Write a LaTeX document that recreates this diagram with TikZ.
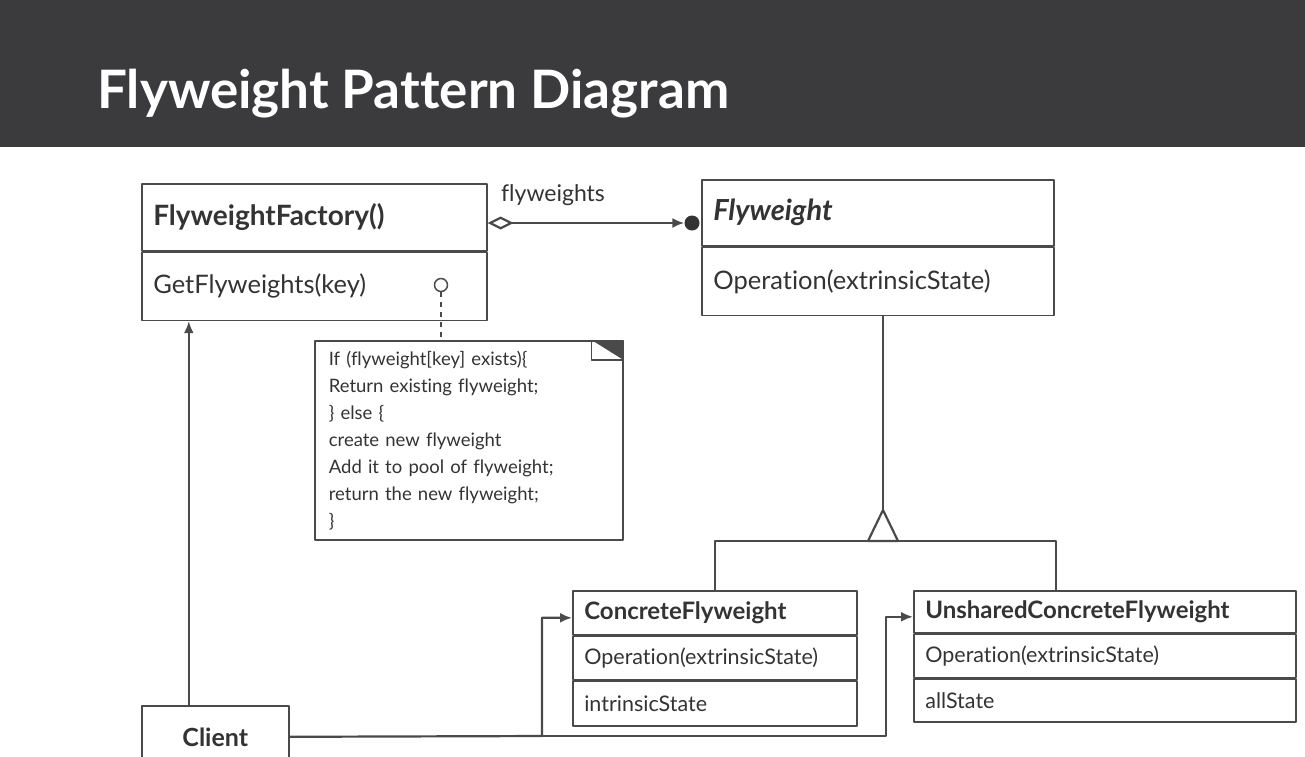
\documentclass[tikz,border=0pt]{standalone}
\usepackage{fontspec}
\setmainfont{Lato}[Ligatures=NoCommon]
\usetikzlibrary{arrows.meta,positioning,calc}

\definecolor{headgray}{HTML}{3B3B3D}
\definecolor{linegray}{HTML}{4A4A4A}
\definecolor{textgray}{HTML}{333333}

\tikzset{
  compartment/.style={draw=linegray, line width=1.6pt, rectangle, anchor=north west,
    align=left, inner xsep=11.5pt, inner ysep=0pt, text=textgray},
  clsname/.style={compartment, font=\fontsize{#1}{#1}\selectfont\bfseries},
  clsops/.style={compartment, font=\fontsize{#1}{#1}\selectfont},
  connector/.style={draw=linegray, line width=2.2pt},
  notebox/.style={draw=linegray, line width=1.6pt, rectangle, anchor=north west,
    align=left, inner xsep=14pt, text=textgray, font=\fontsize{18.5}{27}\selectfont},
}

\begin{document}
\begin{tikzpicture}[x=1pt,y=-1pt,>={Latex[length=12pt,width=10pt]},line join=bevel]
\useasboundingbox (0,0) rectangle (1305,756);
\clip (0,0) rectangle (1305,756);

% Header
\fill[headgray] (0,0) rectangle (1305,147);
\node[anchor=base west, inner sep=0pt, text=white, font=\fontsize{53}{53}\selectfont\bfseries] (title) at (97,108) {Flyweight Pattern Diagram};

% Class: FlyweightFactory
\node[clsname=28, text width=322pt, minimum height=67pt] (factory) at (141,183) {FlyweightFactory()};
\node[clsops=25.5, text width=322pt, minimum height=68pt] (factoryops) at (factory.south west) {GetFlyweights(key)};

% Class: Flyweight
\node[compartment, font=\fontsize{29}{29}\selectfont\bfseries\itshape, text width=329pt, minimum height=66pt] (flyweight) at (701,179) {Flyweight};
\node[clsops=25.5, text width=329pt, minimum height=68pt] (flyweightops) at (flyweight.south west) {Operation(extrinsicState)};

% Class: ConcreteFlyweight
\node[clsname=24, text width=261pt, minimum height=44pt] (concrete) at (572,590) {ConcreteFlyweight};
\node[clsops=21.5, text width=261pt, minimum height=43pt] (concreteops) at (concrete.south west) {Operation(extrinsicState)};
\node[clsops=21.5, text width=261pt, minimum height=45pt] (concretestate) at (concreteops.south west) {intrinsicState};

% Class: UnsharedConcreteFlyweight
\node[clsname=24, text width=359pt, minimum height=42pt] (unshared) at (913,590) {UnsharedConcreteFlyweight};
\node[clsops=21.5, text width=359pt, minimum height=43pt] (unsharedops) at (unshared.south west) {Operation(extrinsicState)};
\node[clsops=21.5, text width=359pt, minimum height=43pt] (unsharedstate) at (unsharedops.south west) {allState};

% Class: Client
\node[clsname=25, align=center, text width=124pt, minimum height=62pt] (client) at (141,705) {Client};

% Note
\node[notebox, text width=280pt, minimum height=199pt] (note) at (314,340) {If (flyweight[key] exists)\{\\Return existing flyweight;\\\} else \{\\create new flyweight\\Add it to pool of flyweight;\\return the new flyweight;\\\}};
\fill[linegray] ([xshift=-32pt]note.north east) -- (note.north east) -- ([yshift=-20pt]note.north east) -- cycle;
\draw[linegray, line width=1.4pt] ([xshift=-32pt]note.north east) -- ++(0,20) -- ++(32,0);

% Note anchor
\node[circle, draw=linegray, line width=1.5pt, fill=white, minimum size=13pt, inner sep=0pt] (lolli) at (441,285) {};
\draw[linegray, line width=2.4pt, dash pattern=on 5pt off 5pt] (lolli.south) -- (lolli.south |- note.north);

% Aggregation: flyweights
\coordinate (aggstart) at (factory.east |- 0,223);
\node[circle, fill=textgray, minimum size=15pt, inner sep=0pt] (flydot) at (692,223) {};
\draw[connector, {Diamond[open,length=26pt,width=13pt]}->] (aggstart) -- (flydot.west);
\node[text=textgray, font=\fontsize{23}{23}\selectfont] (aggname) at (553,195) {flyweights};

% Generalization
\coordinate (apex) at (883,510);
\coordinate (branch) at (883,541);
\coordinate (unsharedtop) at (1056,590);
\draw[connector] (flyweightops.south -| apex) -- (apex);
\draw[connector] (concrete.north) |- (branch) -| (unsharedtop);
\draw[connector, fill=white] (apex) -- ++(-15,31) -- ++(30,0) -- cycle;

% Client links
\coordinate (clientup) at ([xshift=-26.5pt]client.north);
\draw[connector, ->] (clientup) -- (clientup |- factoryops.south);
\coordinate (busA) at (542,736);
\coordinate (busB) at (886,736);
\draw[connector, ->] (client.east) -- (busA) |- ([yshift=-5pt]concrete.west);
\draw[connector, ->] (busA) -- (busB) |- ([yshift=-5pt]unshared.west);
\end{tikzpicture}
\end{document}
